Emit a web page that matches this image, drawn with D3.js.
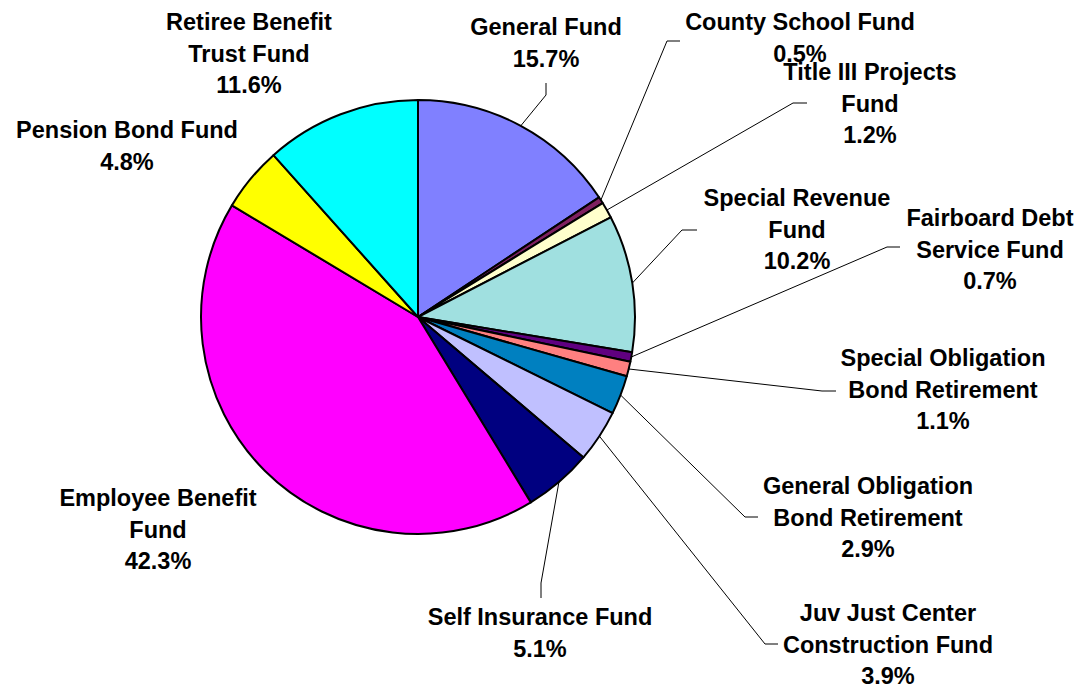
<!DOCTYPE html>
<html>
<head>
<meta charset="utf-8">
<script src="https://cdn.jsdelivr.net/npm/d3@7"></script>
<style>
  body { margin: 0; background: #fff; }
  text { font-family: "Liberation Sans", Arial, sans-serif; font-weight: bold; font-size: 23.5px; fill: #000; }
</style>
</head>
<body>
<svg id="chart" width="1084" height="686"></svg>
<script>
// slices clockwise from 12 o'clock
const FUNDS = [
    "General Fund", "County School Fund", "Title III Projects Fund", "Special Revenue Fund",
    "Fairboard Debt Service Fund", "Special Obligation Bond Retirement",
    "General Obligation Bond Retirement", "Juv Just Center Construction Fund",
    "Self Insurance Fund", "Employee Benefit Fund", "Pension Bond Fund", "Retiree Benefit Trust Fund"
];
const SHARES = [15.7, 0.5, 1.2, 10.2, 0.7, 1.1, 2.9, 3.9, 5.1, 42.3, 4.8, 11.6];
const LABEL_LINES = [
    ["General Fund"], ["County School Fund"], ["Title III Projects", "Fund"], ["Special Revenue", "Fund"],
    ["Fairboard Debt", "Service Fund"], ["Special Obligation", "Bond Retirement"],
    ["General Obligation", "Bond Retirement"], ["Juv Just Center", "Construction Fund"],
    ["Self Insurance Fund"], ["Employee Benefit", "Fund"], ["Pension Bond Fund"], ["Retiree Benefit", "Trust Fund"]
];
const COLORS = [
    "#8080ff", "#7f2060", "#ffffcc", "#a0e0e0", "#600080", "#ff8080",
    "#0080c0", "#c0c0ff", "#000080", "#ff00ff", "#ffff00", "#00ffff"
];

// label placement: text centre x, first baseline y, leader elbow and end (null = no leader)
const LAYOUT = [
    { x: 546, y: 35, elbow: [546, 95], end: [546, 83] },
    { x: 800, y: 30, elbow: [667, 41], end: [680, 41] },
    { x: 870, y: 80, elbow: [793, 103], end: [807, 103] },
    { x: 797, y: 206, elbow: [682, 230], end: [697, 230] },
    { x: 990, y: 226, elbow: [887, 247], end: [900, 247] },
    { x: 943, y: 366, elbow: [822, 391], end: [836, 391] },
    { x: 868, y: 494, elbow: [745, 517], end: [758, 517] },
    { x: 888, y: 621, elbow: [765, 644], end: [778, 644] },
    { x: 540, y: 625, elbow: [541, 583], end: [541, 598] },
    { x: 158, y: 506, elbow: null, end: null },
    { x: 127, y: 138, elbow: null, end: null },
    { x: 249, y: 30, elbow: null, end: null }
];

const cx = 418, cy = 317, radius = 217, lineGap = 31.5;
const svg = d3.select("#chart");

const data = FUNDS.map((name, i) => ({ name, value: SHARES[i], color: COLORS[i], lines: LABEL_LINES[i], pos: LAYOUT[i] }));

const pie = d3.pie().sort(null).value(d => d.value);
const arcs = pie(data);
const arc = d3.arc().innerRadius(0).outerRadius(radius);

const g = svg.append("g").attr("transform", `translate(${cx},${cy})`);
g.selectAll("path.slice")
    .data(arcs)
    .join("path")
    .attr("class", "slice")
    .attr("d", arc)
    .attr("fill", d => d.data.color)
    .attr("stroke", "#000")
    .attr("stroke-width", 2)
    .attr("stroke-linejoin", "round");

// leader lines start at the slice midpoint on the rim
const leaders = svg.append("g");
arcs.forEach(a => {
    const p = a.data.pos;
    if (!p.elbow) return;
    const mid = (a.startAngle + a.endAngle) / 2;
    const sx = cx + radius * Math.sin(mid);
    const sy = cy - radius * Math.cos(mid);
    leaders.append("polyline")
        .attr("points", [[sx, sy], p.elbow, p.end].map(q => q.join(",")).join(" "))
        .attr("fill", "none")
        .attr("stroke", "#000")
        .attr("stroke-width", 1);
});

const labels = svg.append("g");
arcs.forEach(a => {
    const p = a.data.pos;
    const t = labels.append("text").attr("text-anchor", "middle");
    const lines = [...a.data.lines, a.data.value.toFixed(1) + "%"];
    lines.forEach((ln, i) => {
        t.append("tspan").attr("x", p.x).attr("y", p.y + i * lineGap).text(ln);
    });
});
</script>
</body>
</html>
